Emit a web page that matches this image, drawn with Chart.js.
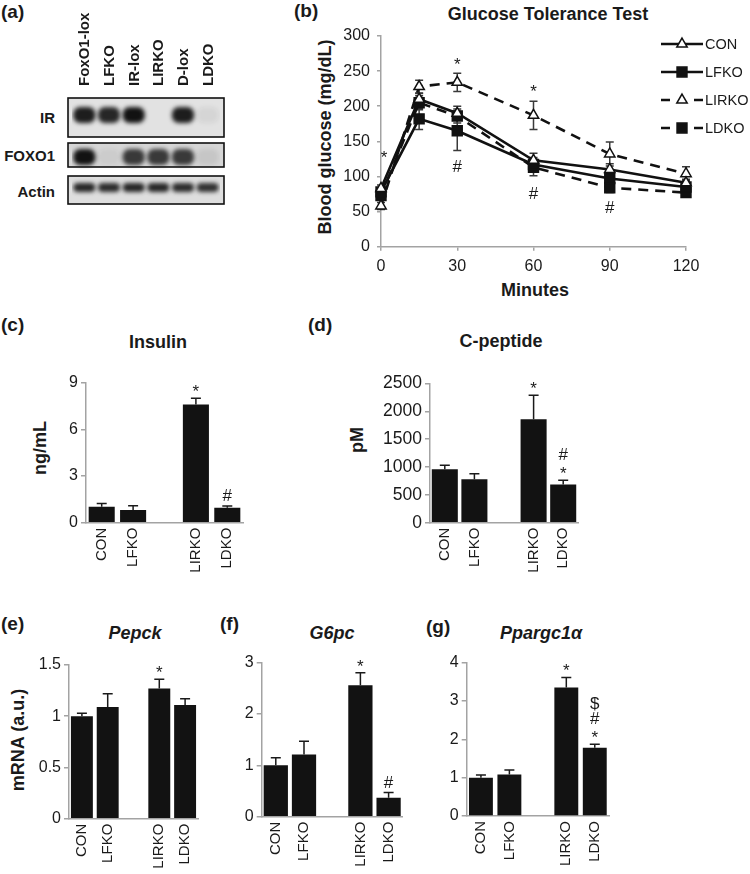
<!DOCTYPE html>
<html>
<head>
<meta charset="utf-8">
<script src="https://cdn.jsdelivr.net/npm/chart.js@4.4.1/dist/chart.umd.min.js"></script>
<style>
	body { margin: 0; background: #fff; width: 750px; height: 874px; position: relative; overflow: hidden;
		font-family: "Liberation Sans", Arial, sans-serif; color: #1a1a1a; }
	.box { position: absolute; }
	.lbl { position: absolute; font-weight: bold; white-space: nowrap; line-height: 1; }
	.c { transform: translate(-50%, -50%); }
	.rot { transform: translate(-50%, -50%) rotate(-90deg); }
	.r { transform: translate(-100%, -50%); }
	.letter { font-size: 19px; }
	.title { font-size: 18px; }
	.it { font-style: italic; }
</style>
</head>
<body>

<!-- panel letters -->
<div class="lbl letter" style="left:1px;top:2px">(a)</div>
<div class="lbl letter" style="left:294px;top:1px">(b)</div>
<div class="lbl letter" style="left:1px;top:315px">(c)</div>
<div class="lbl letter" style="left:308px;top:315px">(d)</div>
<div class="lbl letter" style="left:1px;top:614px">(e)</div>
<div class="lbl letter" style="left:220px;top:614px">(f)</div>
<div class="lbl letter" style="left:426px;top:617px">(g)</div>

<!-- titles -->
<div class="lbl title c" style="left:548px;top:14px">Glucose Tolerance Test</div>
<div class="lbl title c" style="left:158px;top:342px">Insulin</div>
<div class="lbl title c" style="left:501px;top:341px">C-peptide</div>
<div class="lbl title c it" style="left:135px;top:633px">Pepck</div>
<div class="lbl title c it" style="left:332px;top:633px">G6pc</div>
<div class="lbl title c it" style="left:541px;top:633px">Ppargc1α</div>

<!-- axis titles -->
<div class="lbl title rot" style="left:325px;top:137px">Blood glucose (mg/dL)</div>
<div class="lbl title c" style="left:535px;top:290px">Minutes</div>
<div class="lbl title rot" style="left:40px;top:448px">ng/mL</div>
<div class="lbl title rot" style="left:357px;top:440px">pM</div>
<div class="lbl title rot" style="left:18px;top:740px">mRNA (a.u.)</div>

<!-- blot row labels -->
<div class="lbl r" style="left:55px;top:117px;font-size:15px">IR</div>
<div class="lbl r" style="left:55px;top:155px;font-size:15px">FOXO1</div>
<div class="lbl r" style="left:55px;top:191px;font-size:15px">Actin</div>

<div class="box" style="left:0;top:0"><canvas id="blot" width="290" height="230"></canvas></div>
<div class="box" style="left:290px;top:0"><canvas id="gtt" width="460" height="310"></canvas></div>
<div class="box" style="left:30px;top:370px"><canvas id="insulin" width="230" height="230"></canvas></div>
<div class="box" style="left:370px;top:370px"><canvas id="cpeptide" width="230" height="230"></canvas></div>
<div class="box" style="left:10px;top:650px"><canvas id="pepck" width="200" height="224"></canvas></div>
<div class="box" style="left:200px;top:650px"><canvas id="g6pc" width="215" height="224"></canvas></div>
<div class="box" style="left:410px;top:650px"><canvas id="ppargc1a" width="220" height="224"></canvas></div>

<script>
// ---- (a) western blot: lanes and band intensities (0 = no band)
var laneLabels = ['FoxO1-lox', 'LFKO', 'IR-lox', 'LIRKO', 'D-lox', 'LDKO'];
var irBand = [0.95, 0.9, 1, 0, 0.95, 0.06];
var foxo1Band = [1, 0.05, 0.8, 0.8, 0.8, 0.08];
var actinBand = [0.9, 0.88, 0.9, 0.9, 0.88, 0.85];

// ---- (b) glucose tolerance test
var gttMinutes = [0, 15, 30, 60, 90, 120];
var gttCON = [83, 210, 190, 123, 110, 91];
var gttCONerr = [5, 8, 10, 10, 8, 5];
var gttLFKO = [78, 182, 165, 117, 97, 85];
var gttLFKOerr = [5, 15, 28, 10, 8, 6];
var gttLIRKO = [58, 228, 234, 187, 132, 104];
var gttLIRKOerr = [5, 9, 13, 20, 17, 10];
var gttLDKO = [73, 205, 186, 113, 84, 77];
var gttLDKOerr = [5, 10, 10, 12, 7, 5];
var gttSigX = [0, 30, 60, 30, 60, 90];
var gttSigY = [133, 266, 227, 115, 76, 57];
var gttSigText = ['*', '*', '*', '#', '#', '#'];

// ---- (c)-(g) bar panels, empty slot separates the two pairs
var groups = ['CON', 'LFKO', '', 'LIRKO', 'LDKO'];
var insulin = [1.03, 0.81, null, 7.6, 0.96];
var insulinErr = [0.21, 0.28, null, 0.4, 0.11];
var insulinSig = ['', '', '', '*', '#'];
var cpeptide = [960, 780, null, 1860, 685];
var cpeptideErr = [70, 100, null, 430, 77];
var cpeptideSig = ['', '', '', '*', ['*', '#']];
var pepck = [1.0, 1.09, null, 1.27, 1.11];
var pepckErr = [0.03, 0.13, null, 0.09, 0.06];
var pepckSig = ['', '', '', '*', ''];
var g6pc = [1.0, 1.21, null, 2.56, 0.37];
var g6pcErr = [0.15, 0.26, null, 0.24, 0.1];
var g6pcSig = ['', '', '', '*', '#'];
var ppargc1a = [1.0, 1.08, null, 3.35, 1.78];
var ppargc1aErr = [0.07, 0.12, null, 0.26, 0.09];
var ppargc1aSig = ['', '', '', '*', ['*', '#', '$']];

var FONT = '"Liberation Sans", Arial, sans-serif';
var AXIS_GREY = '#a3a3a3';
var INK = '#1a1a1a';
Chart.defaults.font.family = FONT;
Chart.defaults.color = INK;
Chart.defaults.animation = false;
Chart.defaults.plugins.legend.display = false;
Chart.defaults.plugins.tooltip.enabled = false;

// plain numbers: no thousands separator, 1 not 1.0
function plainTick(v) {
	return String(Math.round(v * 100) / 100);
}

// error bars: upward only for bars, both ways for the GTT points
var errorBars = {
	id: 'errorBars',
	beforeDatasetsDraw: function (chart) {
		var ctx = chart.ctx, yScale = chart.scales.y;
		chart.data.datasets.forEach(function (ds, di) {
			if (!ds.errors) return;
			chart.getDatasetMeta(di).data.forEach(function (el, i) {
				var v = ds.data[i], e = ds.errors[i];
				if (v === null || e === null) return;
				var val = typeof v === 'object' ? v.y : v;
				var cap = ds.errorCap || 5;
				var yTop = yScale.getPixelForValue(val + e);
				var yBot = ds.errorBoth ? yScale.getPixelForValue(val - e) : el.y;
				ctx.save();
				ctx.strokeStyle = ds.errorColor || INK;
				ctx.lineWidth = 1.5;
				ctx.beginPath();
				ctx.moveTo(el.x, yBot); ctx.lineTo(el.x, yTop);
				ctx.moveTo(el.x - cap, yTop); ctx.lineTo(el.x + cap, yTop);
				if (ds.errorBoth) { ctx.moveTo(el.x - cap, yBot); ctx.lineTo(el.x + cap, yBot); }
				ctx.stroke();
				ctx.restore();
			});
		});
	}
};

// vertical offset of each glyph's visual centre above the alphabetic baseline (em)
var GLYPH_MID = { '*': 0.58, '#': 0.36, '$': 0.38 };
var MARK_SIZE = 17;

function drawMark(ctx, txt, x, yCentre, size) {
	ctx.font = size + 'px ' + FONT;
	ctx.textAlign = 'center';
	ctx.textBaseline = 'alphabetic';
	ctx.fillStyle = INK;
	ctx.fillText(txt, x, yCentre + (GLYPH_MID[txt] || 0.36) * size);
}

// significance marks stacked above the error bar
var sigMarks = {
	id: 'sigMarks',
	afterDatasetsDraw: function (chart) {
		var ctx = chart.ctx, yScale = chart.scales.y;
		var ds = chart.data.datasets[0];
		if (!ds.sig) return;
		chart.getDatasetMeta(0).data.forEach(function (el, i) {
			var marks = ds.sig[i];
			if (!marks) return;
			if (typeof marks === 'string') marks = [marks];
			var y = yScale.getPixelForValue(ds.data[i] + ds.errors[i]) - 11;
			marks.forEach(function (m) {
				drawMark(ctx, m, el.x, y, MARK_SIZE);
				y -= 15.5;
			});
		});
	}
};

function barChart(id, values, errs, sig, yMax, yStep, area, canvasBox, barPct, tickSize) {
	var yWidth = area.l - canvasBox.l;
	var xHeight = 50;
	return new Chart(document.getElementById(id), {
		type: 'bar',
		data: {
			labels: groups,
			datasets: [{
				data: values,
				errors: errs,
				sig: sig,
				backgroundColor: '#121212',
				borderWidth: 0,
				barPercentage: barPct,
				categoryPercentage: 1
			}]
		},
		options: {
			responsive: false,
			layout: {
				padding: {
					left: 0,
					right: canvasBox.l + canvasBox.w - area.r,
					top: area.t - canvasBox.t,
					bottom: canvasBox.t + canvasBox.h - area.b - xHeight
				}
			},
			scales: {
				x: {
					grid: { display: false, drawTicks: false },
					border: { display: true, color: AXIS_GREY, width: 1.5 },
					ticks: { font: { size: 15 }, color: INK, minRotation: 90, maxRotation: 90, padding: 5, autoSkip: false },
					afterFit: function (s) { s.height = xHeight; }
				},
				y: {
					min: 0, max: yMax,
					ticks: { stepSize: yStep, font: { size: tickSize || 16 }, color: INK, padding: 3, callback: plainTick },
					grid: { drawOnChartArea: false, tickLength: 5, color: AXIS_GREY, lineWidth: 1.5 },
					border: { display: true, color: AXIS_GREY, width: 1.5 },
					afterFit: function (s) { s.width = yWidth; }
				}
			}
		},
		plugins: [errorBars, sigMarks]
	});
}

// ---------------- (a) blot ----------------
var blotRowSpans = [[0, 39], [45, 69], [78, 106]];
var blotBandSpans = [[9, 25], [51, 67], [85, 94]];
var blotFills = ['#e2e2e2', '#d6d6d6', '#dedede'];

function bandColours(arr) {
	return arr.map(function (a) { return 'rgba(18,18,18,' + a + ')'; });
}

var blotFrame = {
	id: 'blotFrame',
	beforeDatasetsDraw: function (chart) {
		var ctx = chart.ctx, a = chart.chartArea, y = chart.scales.y;
		blotRowSpans.forEach(function (span, i) {
			var t = y.getPixelForValue(span[0]), b = y.getPixelForValue(span[1]);
			ctx.fillStyle = blotFills[i];
			ctx.fillRect(a.left - 4, t, a.right - a.left + 8, b - t);
		});
	},
	beforeDatasetDraw: function (chart) {
		chart.ctx.save();
		chart.ctx.filter = 'blur(2px)';
	},
	afterDatasetDraw: function (chart) {
		chart.ctx.restore();
	},
	afterDatasetsDraw: function (chart) {
		var ctx = chart.ctx, a = chart.chartArea, y = chart.scales.y;
		ctx.save();
		ctx.strokeStyle = '#111';
		ctx.lineWidth = 1.6;
		blotRowSpans.forEach(function (span) {
			var t = y.getPixelForValue(span[0]), b = y.getPixelForValue(span[1]);
			ctx.strokeRect(a.left - 4, t, a.right - a.left + 8, b - t);
		});
		ctx.restore();
	},
	// lane names, rotated, reading upwards from just above the blot
	afterDraw: function (chart) {
		var ctx = chart.ctx, x = chart.scales.x, top = chart.chartArea.top;
		ctx.save();
		ctx.font = 'bold 15px ' + FONT;
		ctx.fillStyle = INK;
		ctx.textAlign = 'left';
		ctx.textBaseline = 'middle';
		chart.data.labels.forEach(function (lab, i) {
			ctx.save();
			ctx.translate(x.getPixelForValue(i) + 1, top - 12);
			ctx.rotate(-Math.PI / 2);
			ctx.fillText(lab, 0, 0);
			ctx.restore();
		});
		ctx.restore();
	}
};

function spanPerLane(span) {
	return laneLabels.map(function () { return span.slice(); });
}

new Chart(document.getElementById('blot'), {
	type: 'bar',
	data: {
		labels: laneLabels,
		datasets: [
			{ data: spanPerLane(blotBandSpans[0]), backgroundColor: bandColours(irBand) },
			{ data: spanPerLane(blotBandSpans[1]), backgroundColor: bandColours(foxo1Band) },
			{ data: spanPerLane(blotBandSpans[2]), backgroundColor: bandColours(actinBand) }
		].map(function (d) {
			d.barPercentage = 0.9;
			d.categoryPercentage = 1;
			d.borderRadius = 7;
			d.borderSkipped = false;
			d.grouped = false;
			return d;
		})
	},
	options: {
		responsive: false,
		layout: { padding: { left: 72, right: 70, top: 98, bottom: 26 } },
		scales: {
			x: { display: false },
			y: { display: false, reverse: true, min: 0, max: 106 }
		}
	},
	plugins: [blotFrame]
});

// ---------------- (b) GTT ----------------
function pts(ys) {
	return gttMinutes.map(function (m, i) { return { x: m, y: ys[i] }; });
}

var gttLegend = {
	id: 'gttLegend',
	afterDraw: function (chart, args, o) {
		var ctx = chart.ctx;
		chart.data.datasets.forEach(function (ds, i) {
			var y = o.y + i * o.gap;
			ctx.save();
			ctx.strokeStyle = ds.borderColor;
			ctx.lineWidth = ds.borderWidth;
			ctx.beginPath();
			if (ds.borderDash) {
				ctx.moveTo(o.x, y); ctx.lineTo(o.x + 9, y);
				ctx.moveTo(o.x + o.len - 9, y); ctx.lineTo(o.x + o.len, y);
			} else {
				ctx.moveTo(o.x, y); ctx.lineTo(o.x + o.len, y);
			}
			ctx.stroke();
			ctx.restore();
			ctx.save();
			ctx.fillStyle = ds.pointBackgroundColor;
			ctx.strokeStyle = ds.pointBorderColor;
			Chart.helpers.drawPoint(ctx, {
				pointStyle: ds.pointStyle,
				radius: ds.pointRadius,
				borderWidth: 1.5,
				rotation: 0
			}, o.x + o.len / 2, y);
			ctx.restore();
			ctx.save();
			ctx.font = '14.5px ' + FONT;
			ctx.fillStyle = INK;
			ctx.textAlign = 'left';
			ctx.textBaseline = 'middle';
			ctx.fillText(ds.label, o.x + o.len + 2, y + 1);
			ctx.restore();
		});
	}
};

var gttSig = {
	id: 'gttSig',
	afterDatasetsDraw: function (chart) {
		var x = chart.scales.x, y = chart.scales.y;
		gttSigText.forEach(function (t, i) {
			drawMark(chart.ctx, t, x.getPixelForValue(gttSigX[i]) + (gttSigX[i] === 0 ? 3 : 0), y.getPixelForValue(gttSigY[i]), MARK_SIZE);
		});
	}
};

function gttSet(label, ys, errs, dashed, style) {
	var filled = style === 'rect';
	return {
		label: label,
		data: pts(ys),
		errors: errs,
		errorBoth: true,
		errorCap: 4,
		errorColor: '#3a3a3a',
		borderColor: '#111',
		borderWidth: 2.6,
		borderDash: dashed ? [10, 7] : undefined,
		pointStyle: style,
		pointRadius: filled ? 7 : 6,
		pointBorderWidth: 1.5,
		pointBackgroundColor: filled ? '#111' : '#fff',
		pointBorderColor: '#111',
		tension: 0,
		clip: false
	};
}

new Chart(document.getElementById('gtt'), {
	type: 'line',
	data: {
		datasets: [
			gttSet('CON', gttCON, gttCONerr, false, 'triangle'),
			gttSet('LFKO', gttLFKO, gttLFKOerr, false, 'rect'),
			gttSet('LIRKO', gttLIRKO, gttLIRKOerr, true, 'triangle'),
			gttSet('LDKO', gttLDKO, gttLDKOerr, true, 'rect')
		]
	},
	options: {
		responsive: false,
		layout: { padding: { left: 0, right: 64, top: 36, bottom: 13.3 } },
		plugins: { gttLegend: { x: 371, y: 44, gap: 28, len: 42 } },
		scales: {
			x: {
				type: 'linear', min: 0, max: 120,
				ticks: { stepSize: 30, font: { size: 16 }, color: INK, padding: 6 },
				grid: { drawOnChartArea: false, tickLength: 4, color: AXIS_GREY, lineWidth: 1.5 },
				border: { display: true, color: AXIS_GREY, width: 1.5 },
				afterFit: function (s) { s.height = 50; }
			},
			y: {
				min: 0, max: 300,
				ticks: { stepSize: 50, font: { size: 16 }, color: INK, padding: 7 },
				grid: { drawOnChartArea: false, tickLength: 4, color: AXIS_GREY, lineWidth: 1.5 },
				border: { display: true, color: AXIS_GREY, width: 1.5 },
				afterFit: function (s) { s.width = 91; }
			}
		}
	},
	plugins: [errorBars, gttSig, gttLegend]
});

// ---------------- (c)-(g) bars ----------------
barChart('insulin', insulin, insulinErr, insulinSig, 9, 3,
	{ l: 86, r: 243, t: 382.7, b: 522.7 }, { l: 30, t: 370, w: 230, h: 230 }, 0.83, 16);
barChart('cpeptide', cpeptide, cpeptideErr, cpeptideSig, 2500, 500,
	{ l: 430, r: 578, t: 382.7, b: 522.7 }, { l: 370, t: 370, w: 230, h: 230 }, 0.88, 17.5);
barChart('pepck', pepck, pepckErr, pepckSig, 1.5, 0.5,
	{ l: 69, r: 198, t: 665, b: 818.7 }, { l: 10, t: 650, w: 200, h: 224 }, 0.85, 16);
barChart('g6pc', g6pc, g6pcErr, g6pcSig, 3, 1,
	{ l: 261.7, r: 402.7, t: 662.3, b: 816.7 }, { l: 200, t: 650, w: 215, h: 224 }, 0.86, 16);
barChart('ppargc1a', ppargc1a, ppargc1aErr, ppargc1aSig, 4, 1,
	{ l: 466.7, r: 609, t: 661, b: 816 }, { l: 410, t: 650, w: 220, h: 224 }, 0.84, 16);
</script>
</body>
</html>
